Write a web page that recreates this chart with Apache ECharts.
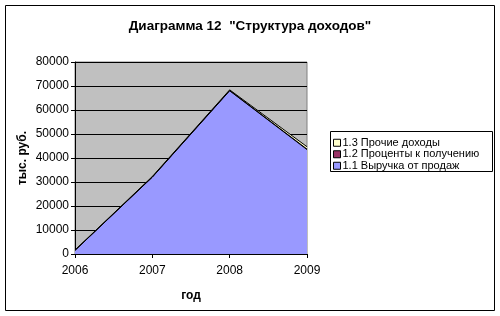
<!DOCTYPE html>
<html><head><meta charset="utf-8">
<script src="https://cdn.jsdelivr.net/npm/echarts@6/dist/echarts.min.js"></script>
<style>html,body{margin:0;padding:0;background:#fff}#c{width:500px;height:316px}</style>
</head><body><div id="c"></div>
<script>
const years = ['2006', '2007', '2008', '2009'];
const sales = [1500, 32000, 68000, 43500];      // 1.1 Выручка от продаж
const interest = [50, 100, 150, 200];          // 1.2 Проценты к получению
const other = [100, 200, 250, 1000];           // 1.3 Прочие доходы
const yTicks = [0, 10000, 20000, 30000, 40000, 50000, 60000, 70000, 80000];

const font = 'Liberation Sans, Arial, sans-serif';
const chart = echarts.init(document.getElementById('c'), null, {renderer: 'canvas'});
function s(name, data, color) {
  return {
    name, type: 'line', stack: 'total', data, symbol: 'none',
    lineStyle: {color: '#000', width: 1},
    areaStyle: {color: color, opacity: 1},
    itemStyle: {color: color, borderColor: '#000', borderWidth: 1},
    emphasis: {disabled: true}
  };
}
chart.setOption({
  animation: false,
  title: {
    text: 'Диаграмма 12  "Структура доходов"', left: 'center', top: 14,
    textStyle: {fontFamily: font, fontSize: 13.5, fontWeight: 'bold', color: '#000'}
  },
  graphic: [{type: 'rect', shape: {x: 5.5, y: 5.5, width: 489, height: 305}, style: {fill: 'none', stroke: '#000', lineWidth: 1}, silent: true},
            {type: 'rect', shape: {x: 330.5, y: 131.5, width: 162, height: 40}, style: {fill: 'none', stroke: '#000', lineWidth: 1}, silent: true}],
  legend: {
    data: ['1.3 Прочие доходы', '1.2 Проценты к получению', '1.1 Выручка от продаж'],
    orient: 'vertical', left: 331, top: 135, itemGap: 0, itemWidth: 7, itemHeight: 7,
    icon: 'rect', padding: [2, 2, 2, 2],
    textStyle: {fontFamily: font, fontSize: 11, color: '#000', padding: [0, 0, 0, -3], lineHeight: 11.5},
    itemStyle: {borderColor: '#000', borderWidth: 1}
  },
  grid: {left: 75, right: 193, top: 62, bottom: 62, show: true, backgroundColor: '#c0c0c0', borderColor: '#808080', borderWidth: 1},
  xAxis: {
    type: 'category', data: years, boundaryGap: false,
    name: 'год', nameLocation: 'middle', nameGap: 36,
    nameTextStyle: {fontFamily: font, fontSize: 12, fontWeight: 'bold', color: '#000'},
    axisLine: {lineStyle: {color: '#000'}},
    axisTick: {show: true, length: 4, lineStyle: {color: '#000'}},
    axisLabel: {fontFamily: font, fontSize: 12, color: '#000', margin: 11}
  },
  yAxis: {
    type: 'value', min: yTicks[0], max: yTicks[yTicks.length - 1], interval: 10000,
    name: 'тыс. руб.', nameLocation: 'middle', nameGap: 46,
    nameTextStyle: {fontFamily: font, fontSize: 12, fontWeight: 'bold', color: '#000'},
    axisLine: {show: true, lineStyle: {color: '#000'}},
    axisTick: {show: true, length: 4, lineStyle: {color: '#000'}},
    axisLabel: {fontFamily: font, fontSize: 12, color: '#000', margin: 6, formatter: v => String(v)},
    splitLine: {show: true, lineStyle: {color: '#000', width: 1}}
  },
  series: [
    s('1.1 Выручка от продаж', sales, '#9999ff'),
    s('1.2 Проценты к получению', interest, '#993366'),
    s('1.3 Прочие доходы', other, '#ffffcc')
  ]
});
</script></body></html>
